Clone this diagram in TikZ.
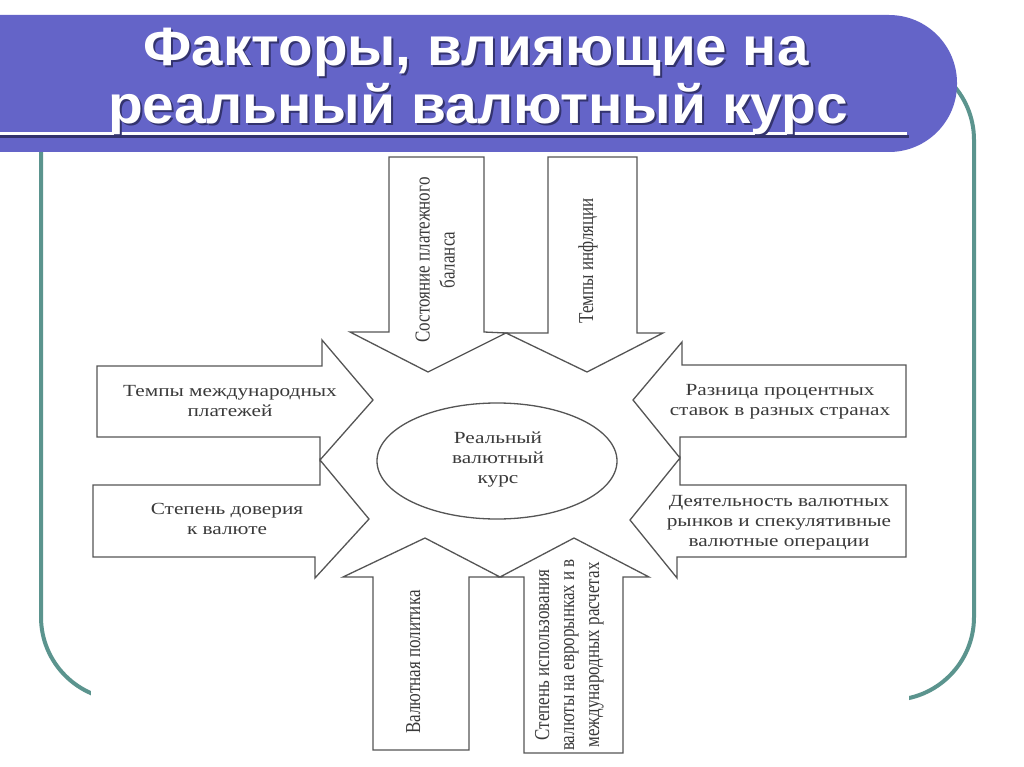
\documentclass[tikz,border=0pt]{standalone}
\usepackage{fontspec}
\setmainfont{Liberation Serif}
\newfontfamily\titlefont{Liberation Sans}
\usetikzlibrary{shapes.geometric}
\definecolor{banner}{HTML}{6464C8}
\definecolor{bannershadow}{HTML}{33336E}
\definecolor{frameteal}{HTML}{5B948E}
\definecolor{ink}{HTML}{555555}
\definecolor{txt}{HTML}{3A3A3A}
\newcommand\htx[1]{\scalebox{1.25}[1]{\begin{tabular}{@{}c@{}}#1\end{tabular}}}
\newcommand\vtx[1]{\scalebox{1}[1.25]{\begin{tabular}{@{}c@{}}#1\end{tabular}}}
\newcommand\tline[2]{\resizebox{#1}{\height}{#2}}
\begin{document}
\begin{tikzpicture}[x=1pt,y=-1pt,
  arrowshape/.style={draw=ink, line width=1.3pt, fill=white, line join=miter},
  lbl/.style={text=txt, font=\fontsize{17}{20}\selectfont, inner sep=0pt},
  titletxt/.style={font=\titlefont\bfseries\fontsize{54}{54}\selectfont, inner sep=0pt, anchor=base}]
\useasboundingbox (0,0) rectangle (1024,767);
\clip (0,0) rectangle (1024,767);
\fill[white] (0,0) rectangle (1024,767);
% frame
\draw[frameteal, line width=4pt, rounded corners=83pt] (41,57) rectangle (974,700);
\fill[white] (91,152) rectangle (909,767);
% banner
\fill[banner, rounded corners=68pt] (-150,15) rectangle (957,152);
\draw[bannershadow, line width=3pt] (0,136.5) -- (909,136.5);
\draw[white, line width=3pt] (0,134) -- (907,134);
\node[titletxt, text=bannershadow] (t1s) at (478,68) {\tline{665pt}{Факторы, влияющие на}};
\node[titletxt, text=white] (t1) at (476,66) {\tline{665pt}{Факторы, влияющие на}};
\node[titletxt, text=bannershadow] (t2s) at (480,126) {\tline{740pt}{реальный валютный курс}};
\node[titletxt, text=white] (t2) at (478,124) {\tline{740pt}{реальный валютный курс}};
% arrows
\draw[arrowshape] (389,157) -- (484,157) -- (484,332) -- (506,333) -- (428,372) -- (350,332) -- (389,332) -- cycle;
\draw[arrowshape] (548,157) -- (637,157) -- (637,333) -- (663,333) -- (587,372) -- (506,333) -- (548,333) -- cycle;
\draw[arrowshape] (97,366) -- (322,366) -- (322,340) -- (373,400) -- (320,460) -- (320,437) -- (97,437) -- cycle;
\draw[arrowshape] (93,485) -- (320,485) -- (320,460) -- (369,519) -- (315,578) -- (315,557) -- (93,557) -- cycle;
\draw[arrowshape] (906,365) -- (682,365) -- (682,342) -- (633,400) -- (680,458) -- (680,437) -- (906,437) -- cycle;
\draw[arrowshape] (906,485) -- (680,485) -- (680,458) -- (630,520) -- (677,578) -- (677,557) -- (906,557) -- cycle;
\draw[arrowshape] (373,750) -- (373,577) -- (343,577) -- (425,538) -- (500,577) -- (469,577) -- (469,750) -- cycle;
\draw[arrowshape] (524,753) -- (524,577) -- (500,577) -- (574,538) -- (649,577) -- (623,577) -- (623,753) -- cycle;
% centre
\node[draw=ink, line width=1.3pt, ellipse, minimum width=240pt, minimum height=116pt, fill=white] (centre) at (497,461) {};
\node[lbl] (ctext) at (498,459) {\htx{Реальный\\валютный\\курс}};
% labels
\node[lbl, rotate=90] (la) at (437,260) {\vtx{Состояние платежного\\баланса}};
\node[lbl, rotate=90] (lb) at (588,261) {\vtx{Темпы инфляции}};
\node[lbl] (lc) at (230,402) {\htx{Темпы международных\\платежей}};
\node[lbl] (ld) at (227,520) {\htx{Степень доверия\\к валюте}};
\node[lbl] (le) at (780,401) {\htx{Разница процентных\\ставок в разных странах}};
\node[lbl] (lf) at (779,522) {\htx{Деятельность валютных\\рынков и спекулятивные\\валютные операции}};
\node[lbl, rotate=90] (lg) at (415,662) {\vtx{Валютная политика}};
\node[lbl, rotate=90] (lh) at (569,655) {\vtx{Степень использования\\валюты на еврорынках и в\\международных расчетах}};
\end{tikzpicture}
\end{document}
